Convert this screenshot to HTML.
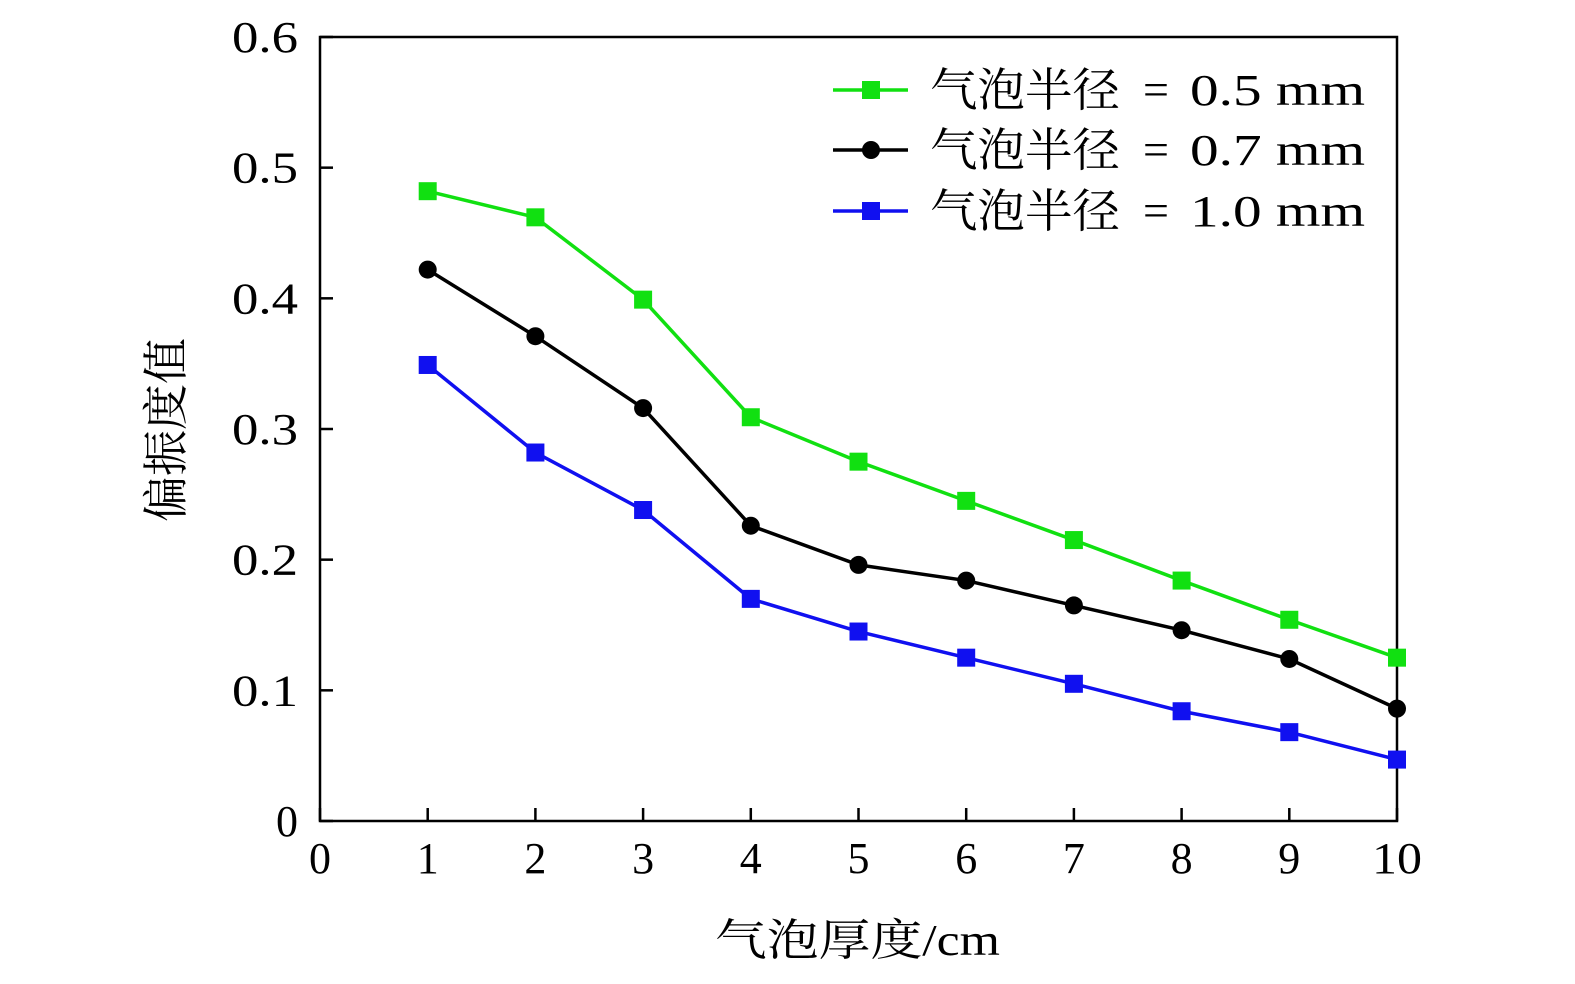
<!DOCTYPE html>
<html><head><meta charset="utf-8"><style>
body{margin:0;background:#fff;}
svg{display:block;}
text{font-family:"Liberation Serif","Noto Serif CJK SC",serif;fill:#000;}
</style></head><body>
<svg id="chart" width="1575" height="984">
<g id="axes"></g><g id="series"></g><g id="legend"></g>
</svg>
<script>
const categories=[1,2,3,4,5,6,7,8,9,10];
const seriesR05=[0.482,0.462,0.399,0.309,0.275,0.245,0.215,0.184,0.154,0.125];
const seriesR07=[0.422,0.371,0.316,0.226,0.196,0.184,0.165,0.146,0.124,0.086];
const seriesR10=[0.349,0.282,0.238,0.170,0.145,0.125,0.105,0.084,0.068,0.047];
const xTicks=[0,1,2,3,4,5,6,7,8,9,10];
const yTicks=[0,0.1,0.2,0.3,0.4,0.5,0.6];
const yTickLabels=["0","0.1","0.2","0.3","0.4","0.5","0.6"];
const legendNames=["气泡半径","气泡半径","气泡半径"];
const legendValues=["0.5 mm","0.7 mm","1.0 mm"];
const NS="http://www.w3.org/2000/svg";
const X0=320,X1=1397,Y0=821,Y1=37;
const xs=v=>X0+(v-0)/10*(X1-X0);
const ys=v=>Y0-(v/0.6)*(Y0-Y1);
function mk(tag,attrs,parent,txt){const e=document.createElementNS(NS,tag);for(const k in attrs)e.setAttribute(k,attrs[k]);if(txt!=null)e.textContent=txt;parent.appendChild(e);return e;}
const axes=document.getElementById('axes');
let f=mk('rect',{x:X0,y:Y1,width:X1-X0,height:Y0-Y1,fill:'none',stroke:'#000','stroke-width':2.5},axes);


xTicks.forEach(t=>{
 let l=mk('line',{x1:xs(t),x2:xs(t),y1:Y0,y2:Y0-13,stroke:'#000','stroke-width':2.5},axes);
 
 
 const a={x:xs(t),y:873,'text-anchor':'middle','font-size':44};
 if(t===10){a.x=xs(t)-25;a['text-anchor']='start';a.textLength=50;a.lengthAdjust='spacingAndGlyphs';}
 let tx=mk('text',a,axes,String(t));
 
 
});
yTicks.forEach((t,i)=>{
 let l=mk('line',{x1:X0,x2:X0+13,y1:ys(t),y2:ys(t),stroke:'#000','stroke-width':2.5},axes);
 
 
 const a={x:298,y:ys(t)+15,'text-anchor':'end','font-size':44};
 if(i>0){a.x=232;a['text-anchor']='start';a.textLength=66;a.lengthAdjust='spacingAndGlyphs';}
 let tx=mk('text',a,axes,yTickLabels[i]);
 
 
});
let xt=mk('text',{x:715,y:955,'font-size':44,textLength:285,lengthAdjust:'spacingAndGlyphs'},axes,'气泡厚度/cm');


let yt=mk('text',{x:0,y:0,'text-anchor':'middle','font-size':46,transform:'translate(182,430) rotate(-90)'},axes,'偏振度值');


const sg=document.getElementById('series');
const defs=[[seriesR05,'#11e011','square','series-r05'],[seriesR07,'#000','circle','series-r07'],[seriesR10,'#1010f0','square','series-r10']];
function marker(parent,x,y,color,shape){
 if(shape==='circle')return mk('circle',{cx:x,cy:y,r:9,fill:color},parent);
 return mk('rect',{x:x-9,y:y-9,width:18,height:18,fill:color},parent);
}
defs.forEach(([vals,color,shape,name])=>{
 const g=mk('g',{},sg);
 
 
 const p=mk('polyline',{points:vals.map((v,i)=>xs(categories[i])+','+ys(v)).join(' '),fill:'none',stroke:color,'stroke-width':3.5},g);
 
 
 vals.forEach((v,i)=>{
  const m=marker(g,xs(categories[i]),ys(v),color,shape);
  
  
 });
});
const lg=document.getElementById('legend');
const legY=[90,150,211];
defs.forEach(([vals,color,shape,name],i)=>{
 const g=mk('g',{},lg);
 
 
 mk('line',{x1:833,x2:908,y1:legY[i],y2:legY[i],stroke:color,'stroke-width':3.5},g);
 marker(g,871,legY[i],color,shape);
 const t=mk('text',{x:930,y:legY[i]+16,'font-size':46,textLength:190,lengthAdjust:'spacingAndGlyphs'},g,legendNames[i]);
 
 
 mk('text',{x:1156,y:legY[i]+15,'font-size':46,'text-anchor':'middle'},g,'=');
 mk('text',{x:1190,y:legY[i]+15,'font-size':44,textLength:175,lengthAdjust:'spacingAndGlyphs'},g,legendValues[i]);
});
</script>
</body></html>
